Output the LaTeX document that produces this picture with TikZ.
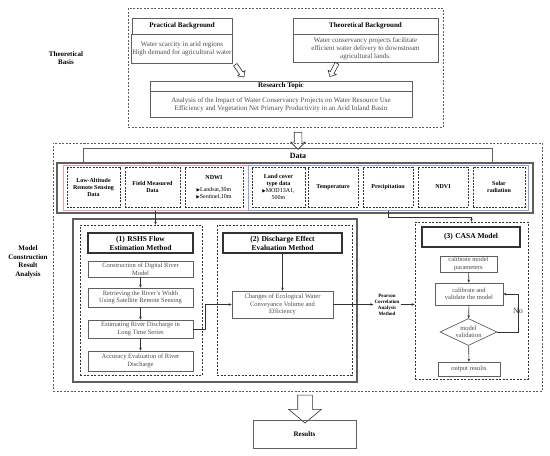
\documentclass[tikz,border=0pt]{standalone}
\usepackage{fontspec}
\setmainfont{Liberation Serif}
\newfontfamily\symfont{DejaVu Sans}
\usepackage{tikz}
\usetikzlibrary{arrows.meta,shapes.geometric,shapes.arrows}
\definecolor{cLine}{RGB}{95,95,95}
\definecolor{cDark}{RGB}{50,50,50}
\definecolor{cText}{RGB}{75,75,75}
\definecolor{cRot}{RGB}{225,160,165}
\definecolor{cBlau}{RGB}{150,160,215}
\newcommand{\tri}{{\symfont\fontsize{4.5}{5}\selectfont ▶}}

\begin{document}
\begin{tikzpicture}[x=1pt,y=-1pt,font=\fontsize{7}{8}\selectfont,
  box/.style={draw=cLine,line width=0.7pt,inner sep=1pt,align=center,text=cText},
  head/.style={draw=cLine,line width=0.7pt,inner sep=1pt,align=center,font=\fontsize{7}{8}\selectfont\bfseries},
  item/.style={draw=cDark,dash pattern=on 2pt off 1.2pt,line width=0.7pt,minimum height=40pt,inner sep=1pt,align=center,font=\fontsize{6}{7}\selectfont\bfseries},
  frame/.style={draw=cLine,dash pattern=on 2pt off 1.5pt,line width=0.6pt,inner sep=0pt},
  mhead/.style={draw=cDark,line width=1.1pt,inner sep=1pt,align=center,font=\fontsize{7.5}{9}\selectfont\bfseries},
  stepbox/.style={draw=cLine,line width=0.7pt,inner sep=1pt,align=center,text=cText,font=\fontsize{6.5}{7.5}\selectfont},
  hollow/.style={single arrow,draw=cDark,line width=0.6pt,fill=white},
  link/.style={-{Stealth[length=3pt,width=2.6pt]},draw=cDark,line width=0.6pt},
  lab/.style={align=center,font=\fontsize{7}{8.5}\selectfont\bfseries}]
\useasboundingbox (0,0) rectangle (550,456);

% theoretical basis
\node[frame,minimum width=315pt,minimum height=119pt] (tbasis) at (285.5,67.5) {};
\node[lab] (tlab) at (66,58) {Theoretical\\Basis};
\node[head,minimum width=100pt,minimum height=16pt] (pbh) at (182,26) {Practical Background};
\node[box,minimum width=100pt,minimum height=29pt,anchor=north] (pb) at (pbh.south) {Water scarcity in arid regions\\High demand for agricultural water};
\node[head,minimum width=145pt,minimum height=16pt] (tbh) at (365.5,26) {Theoretical Background};
\node[box,minimum width=145pt,minimum height=28pt,anchor=north] (tb) at (tbh.south) {Water conservancy projects facilitate\\efficient water delivery to downstream\\agricultural lands.};
\node[head,minimum width=262pt,minimum height=10pt] (rth) at (281,86) {Research Topic};
\node[box,minimum width=262pt,minimum height=26pt,anchor=north] (rt) at (rth.south) {Analysis of the Impact of Water Conservancy Projects on Water Resource Use\\Efficiency and Vegetation Net Primary Productivity in an Arid Inland Basin};
\node[hollow,shape border rotate=270,rotate=35,minimum height=15pt,minimum width=9pt,inner sep=1.8pt,single arrow head extend=2.5pt] (ha1) at (239,70) {};
\node[hollow,shape border rotate=270,rotate=-28,minimum height=15pt,minimum width=9pt,inner sep=1.8pt,single arrow head extend=2.5pt] (ha2) at (334,69) {};
\node[hollow,shape border rotate=270,minimum height=17pt,minimum width=14pt,inner sep=3.5pt,single arrow head extend=3.5pt] (ha3) at (298,139) {};

% data
\node[frame,minimum width=489pt,minimum height=248pt] (mframe) at (297.5,267) {};
\node[lab] (mlab) at (28,262) {Model\\Construction\\Result\\Analysis};
\node[draw=cLine,line width=1.2pt,minimum width=476pt,minimum height=50pt] (dat) at (295,188) {};
\coordinate (dl) at (83,163);
\coordinate (dr) at (492,163);
\draw[cLine,line width=0.9pt] (dl) -- ++(0,-15) -| (dr);
\node[font=\fontsize{8}{9}\selectfont\bfseries] (dlab) at (298,155.5) {Data};
\node[draw=cRot,line width=0.8pt,minimum width=185pt,minimum height=45pt,inner sep=0pt] (grpA) at (155.5,188) {};
\node[draw=cBlau,line width=0.8pt,minimum width=280pt,minimum height=45pt,inner sep=0pt] (grpB) at (388,188) {};
\node[item,minimum width=53pt] (lar) at (93.5,187) {Low-Altitude\\Remote Sensing\\Data};
\node[item,minimum width=55pt] (fmd) at (152.5,187) {Field Measured\\Data};
\node[item,minimum width=58pt] (ndwi) at (214,187) {NDWI\\[5pt]{\mdseries\tri Landsat,30m}\\{\mdseries\tri Sentinel,10m}};
\node[item,minimum width=53pt] (lct) at (278.5,187) {Land cover\\type data\\{\mdseries\tri MOD13A1,}\\{\mdseries 500m}};
\node[item,minimum width=50pt] (temp) at (333,187) {Temperature};
\node[item,minimum width=50pt] (prec) at (388,187) {Precipitation};
\node[item,minimum width=50pt] (ndvi) at (443,187) {NDVI};
\node[item,minimum width=52pt] (solar) at (499,187) {Solar\\radiation};

% model
\node[draw=cLine,line width=1.2pt,minimum width=284pt,minimum height=163pt] (mdl) at (215,300.5) {};
\node[frame,draw=cDark,minimum width=122pt,minimum height=150pt] (sec1) at (141,300) {};
\node[mhead,minimum width=105pt,minimum height=20pt] (h1) at (140.5,243) {(1)\,\,RSHS Flow\\Estimation Method};
\node[stepbox,minimum width=105pt,minimum height=16pt] (b1) at (140.5,269) {Construction of Digital River\\Model};
\node[stepbox,minimum width=105pt,minimum height=19pt] (b2) at (140.5,297.5) {Retrieving the River’s Width\\Using Satellite Remote Sensing};
\node[stepbox,minimum width=105pt,minimum height=18pt] (b3) at (140.5,329) {Estimating River Discharge in\\Long Time Series};
\node[stepbox,minimum width=105pt,minimum height=20pt] (b4) at (140.5,361) {Accuracy Evaluation of River\\Discharge};

\node[frame,draw=cDark,minimum width=135pt,minimum height=150pt] (sec2) at (284.5,300) {};
\node[mhead,minimum width=119pt,minimum height=20pt] (h2) at (282.5,243) {(2)\,\,Discharge Effect\\Evaluation Method};
\node[stepbox,minimum width=101pt,minimum height=27pt] (ch) at (282.5,304.5) {Changes of Ecological Water\\Conveyance Volume and\\Efficiency};

\node[font=\fontsize{5}{6}\selectfont\bfseries,align=center,inner sep=1pt] (pear) at (387,304.5) {Pearson\\Correlation\\Analysis\\Method};

\node[frame,draw=cDark,minimum width=113pt,minimum height=157pt] (sec3) at (471.5,300.5) {};
\node[mhead,minimum width=98pt,minimum height=20pt] (h3) at (471,237) {(3)\,\,CASA Model};
\node[stepbox,minimum width=57pt,minimum height=16pt] (c1) at (468.5,264) {calibrate model\\parameters};
\node[stepbox,minimum width=68pt,minimum height=22pt] (c2) at (469,294) {calibrate and\\validate the model};
\node[diamond,draw=cLine,line width=0.7pt,aspect=2.1,inner sep=0pt,minimum width=57pt,minimum height=27pt,align=center,text=cText,font=\fontsize{6.5}{7.5}\selectfont] (dia) at (468.5,332) {model\\validation};
\node[stepbox,minimum width=62pt,minimum height=14pt] (out) at (469,369) {output results};
\node[text=cText,font=\fontsize{8}{9}\selectfont] (no) at (518,311) {No};

% links
\draw[link] (grpA.south) -- (grpA.south |- sec1.north);
\draw[link] (grpB.south) -- ++(0,6) -| (sec3.north);
\draw[link] (b1) -- (b2);
\draw[link] (b2) -- (b3);
\draw[link] (b3) -- (b4);
\draw[link] (b3.east) -- ++(12,0) |- (ch.west);
\draw[link] (h2) -- (ch);
\draw[link] (ch.east) -- (pear.west);
\draw[link] (pear.east) -- (sec3.west |- pear.east);
\draw[link] (c1) -- (c2);
\draw[link] (c2) -- (dia);
\draw[link] (dia) -- (out);
\draw[link] (dia.east) -- ++(21,0) |- (c2.east);

% results
\node[hollow,shape border rotate=270,single arrow tip angle=100,minimum height=28pt,minimum width=32pt,inner sep=7pt,single arrow head extend=9pt] (ha4) at (305,406) {};
\node[draw=cLine,line width=0.8pt,minimum width=103pt,minimum height=28pt,font=\fontsize{7}{8}\selectfont\bfseries] (res) at (304.5,434) {Results};
\end{tikzpicture}
\end{document}
